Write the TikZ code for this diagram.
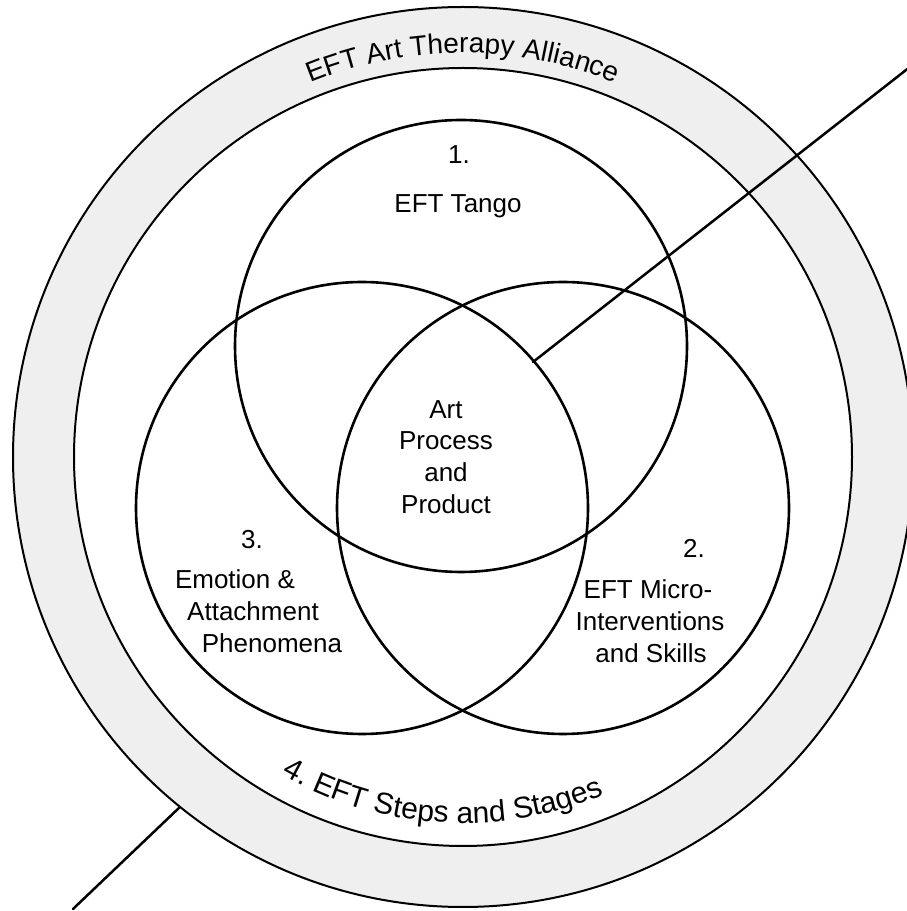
\documentclass[tikz,border=0pt]{standalone}
\usepackage{fontspec}
\setmainfont{Liberation Sans}
\usetikzlibrary{decorations.text}
\definecolor{bandgray}{HTML}{EFEFEF}
\begin{document}
\begin{tikzpicture}[x=1pt,y=1pt,
  venn/.style={line width=2.6pt, draw=black},
  ring/.style={line width=2pt, draw=black},
  lbl/.style={font=\fontsize{26}{30}\selectfont, anchor=base, inner sep=0pt},
  conn/.style={line width=2.5pt, draw=black, line cap=round}]
\useasboundingbox (0,0) rectangle (907,911);
\clip (0,0) rectangle (907,911);
\coordinate (O) at (463,454);
\coordinate (c1) at (461,565);
\coordinate (c2) at (563,403);
\coordinate (c3) at (362,403);
% band
\fill[bandgray, even odd rule] (O) circle (450) (O) circle (389);
\draw[ring] (O) circle (450);
\draw[ring] (O) circle (389);
% venn circles
\draw[venn] (c1) circle (226);
\draw[venn] (c2) circle (226);
\draw[venn] (c3) circle (226);
% connector lines
\coordinate (a1) at (533,549);
\coordinate (a2) at (915,848);
\draw[conn] (a1) -- (a2);
\coordinate (b1) at ([shift={(231.04:450)}]O);
\coordinate (b2) at (73,2);
\draw[conn] (b1) -- (b2);
% curved texts
\path[decorate, decoration={text along path, text align=center,
  text={|\fontsize{28}{28}\selectfont|EFT Art Therapy Alliance}}]
  ([shift={(160:404)}]O) arc[start angle=160, end angle=20, radius=404];
\path[decorate, decoration={text along path, text align=center,
  text={|\fontsize{30}{30}\selectfont|4. EFT Steps and Stages}}]
  ([shift={(196.5:366)}]O) arc[start angle=196.5, end angle=336.5, radius=366];
% labels
\node[lbl] (num1) at (459,747) {1.};
\node[lbl] (tango) at (458,698) {EFT Tango};
\node[lbl] (art) at (446,492) {Art};
\node[lbl] (process) at (446,461) {Process};
\node[lbl] (and1) at (446,429) {and};
\node[lbl] (product) at (446,397) {Product};
\node[lbl] (num3) at (252,362) {3.};
\node[lbl] (emo) at (235,322) {Emotion \&};
\node[lbl] (att) at (253,290) {Attachment};
\node[lbl] (phen) at (272,258) {Phenomena};
\node[lbl] (num2) at (694,353) {2.};
\node[lbl] (micro) at (648,312) {EFT Micro-};
\node[lbl] (interv) at (650,280) {Interventions};
\node[lbl] (skills) at (651,248) {and Skills};
\end{tikzpicture}
\end{document}
